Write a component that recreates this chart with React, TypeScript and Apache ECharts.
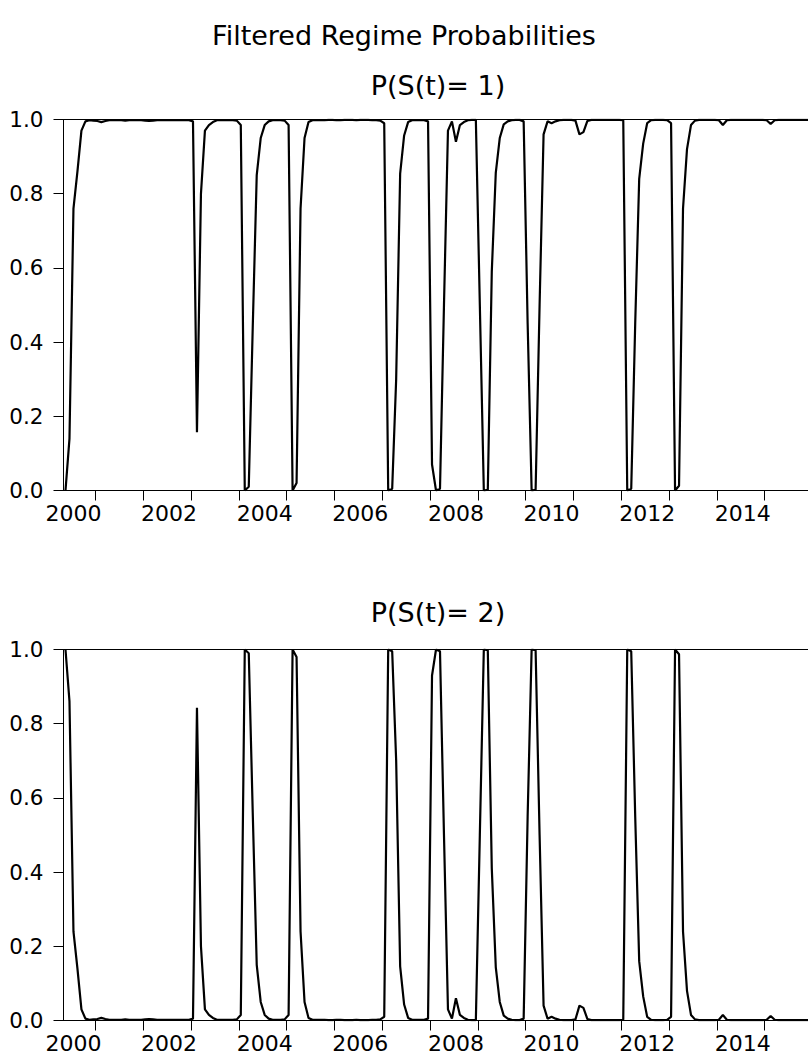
import React, { useEffect, useRef } from "react";
import * as echarts from "echarts";

// Monthly observations, May 2000 .. Dec 2015
const START_YEAR = 2000;
const START_MONTH = 5;
const N_OBS = 188;
const months: string[] = [];
for (let i = 0; i < N_OBS; i++) {
  const m = START_MONTH - 1 + i;
  const y = START_YEAR + Math.floor(m / 12);
  const mm = (m % 12) + 1;
  months.push(`${y}-${String(mm).padStart(2, "0")}`);
}

const labelYears = [2000, 2002, 2004, 2006, 2008, 2010, 2012, 2014];
const yTicks = [0, 0.2, 0.4, 0.6, 0.8, 1.0];

const titleText = "Filtered Regime Probabilities";
const panelTitles = ["P(S(t)= 1)", "P(S(t)= 2)"];

// Filtered probability of regime 1
const probRegime1 = [
  0.000, 0.140, 0.760, 0.860, 0.970, 0.995, 0.998, 0.997, 0.996, 0.993, 0.996, 0.998,
  0.998, 0.998, 0.998, 0.997, 0.998, 0.998, 0.998, 0.998, 0.997, 0.996, 0.997, 0.998,
  0.998, 0.998, 0.998, 0.998, 0.998, 0.998, 0.998, 0.998, 0.995, 0.157, 0.800, 0.970,
  0.985, 0.993, 0.998, 0.998, 0.998, 0.998, 0.998, 0.997, 0.985, 0.000, 0.010, 0.440,
  0.850, 0.950, 0.985, 0.995, 0.998, 0.998, 0.998, 0.997, 0.985, 0.000, 0.020, 0.760,
  0.950, 0.993, 0.998, 0.998, 0.998, 0.998, 0.999, 0.999, 0.998, 0.998, 0.999, 0.999,
  0.999, 0.998, 0.999, 0.999, 0.999, 0.998, 0.998, 0.997, 0.990, 0.000, 0.005, 0.300,
  0.854, 0.957, 0.993, 0.998, 0.998, 0.998, 0.998, 0.995, 0.070, 0.000, 0.005, 0.500,
  0.970, 0.995, 0.940, 0.985, 0.993, 0.998, 0.999, 0.999, 0.500, 0.000, 0.002, 0.590,
  0.856, 0.950, 0.987, 0.995, 0.998, 0.999, 0.999, 0.995, 0.450, 0.000, 0.002, 0.500,
  0.960, 0.995, 0.990, 0.995, 0.998, 0.999, 0.999, 0.999, 0.997, 0.960, 0.966, 0.996,
  0.999, 0.999, 0.999, 0.999, 0.999, 0.999, 0.999, 0.999, 0.998, 0.000, 0.005, 0.450,
  0.840, 0.935, 0.990, 0.998, 0.999, 0.999, 0.999, 0.998, 0.990, 0.000, 0.013, 0.760,
  0.920, 0.985, 0.997, 0.999, 0.999, 0.999, 0.999, 0.999, 0.998, 0.985, 0.998, 0.999,
  0.999, 0.999, 0.999, 0.999, 0.999, 0.999, 0.999, 0.999, 0.998, 0.988, 0.998, 0.999,
  0.999, 0.999, 0.999, 0.999, 0.999, 0.999, 0.999, 0.999,
];

// Filtered probability of regime 2
const probRegime2 = [
  1.000, 0.860, 0.240, 0.140, 0.030, 0.005, 0.002, 0.003, 0.004, 0.007, 0.004, 0.002,
  0.002, 0.002, 0.002, 0.003, 0.002, 0.002, 0.002, 0.002, 0.003, 0.004, 0.003, 0.002,
  0.002, 0.002, 0.002, 0.002, 0.002, 0.002, 0.002, 0.002, 0.005, 0.843, 0.200, 0.030,
  0.015, 0.007, 0.002, 0.002, 0.002, 0.002, 0.002, 0.003, 0.015, 1.000, 0.990, 0.560,
  0.150, 0.050, 0.015, 0.005, 0.002, 0.002, 0.002, 0.003, 0.015, 1.000, 0.980, 0.240,
  0.050, 0.007, 0.002, 0.002, 0.002, 0.002, 0.001, 0.001, 0.002, 0.002, 0.001, 0.001,
  0.001, 0.002, 0.001, 0.001, 0.001, 0.002, 0.002, 0.003, 0.010, 1.000, 0.995, 0.700,
  0.146, 0.043, 0.007, 0.002, 0.002, 0.002, 0.002, 0.005, 0.930, 1.000, 0.995, 0.500,
  0.030, 0.005, 0.060, 0.015, 0.007, 0.002, 0.001, 0.001, 0.500, 1.000, 0.998, 0.410,
  0.144, 0.050, 0.013, 0.005, 0.002, 0.001, 0.001, 0.005, 0.550, 1.000, 0.998, 0.500,
  0.040, 0.005, 0.010, 0.005, 0.002, 0.001, 0.001, 0.001, 0.003, 0.040, 0.034, 0.004,
  0.001, 0.001, 0.001, 0.001, 0.001, 0.001, 0.001, 0.001, 0.002, 1.000, 0.995, 0.550,
  0.160, 0.065, 0.010, 0.002, 0.001, 0.001, 0.001, 0.002, 0.010, 1.000, 0.987, 0.240,
  0.080, 0.015, 0.003, 0.001, 0.001, 0.001, 0.001, 0.001, 0.002, 0.015, 0.002, 0.001,
  0.001, 0.001, 0.001, 0.001, 0.001, 0.001, 0.001, 0.001, 0.002, 0.012, 0.002, 0.001,
  0.001, 0.001, 0.001, 0.001, 0.001, 0.001, 0.001, 0.001,
];

const FONT = "DejaVu Sans";

export default function App() {
  const ref = useRef<HTMLDivElement>(null);

  useEffect(() => {
    if (!ref.current) return;
    const chart = echarts.init(ref.current, null, { renderer: "svg" });

    const gridLeft = 63.5;
    const gridWidth = 749;
    const gridTops = [119.5, 649.5];
    const gridHeight = 371;

    const makeX = (gridIndex: number) => ({
      type: "category",
      gridIndex,
      data: months,
      boundaryGap: true,
      axisLine: { show: true, lineStyle: { color: "#000", width: 1 } },
      axisTick: {
        show: true,
        length: 10,
        interval: (_i: number, v: string) => v.endsWith("-01"),
        lineStyle: { color: "#000", width: 1 },
      },
      axisLabel: {
        interval: (_i: number, v: string) =>
          v.endsWith("-07") && labelYears.includes(Number(v.slice(0, 4))),
        formatter: (v: string) => v.slice(0, 4),
        color: "#000",
        fontFamily: FONT,
        fontSize: 22,
        margin: 12,
      },
      splitLine: { show: false },
    });

    const makeY = (gridIndex: number) => ({
      type: "value",
      gridIndex,
      min: yTicks[0],
      max: yTicks[yTicks.length - 1],
      interval: 0.2,
      axisLine: { show: true, lineStyle: { color: "#000", width: 1 } },
      axisTick: { show: true, length: 10, lineStyle: { color: "#000", width: 1 } },
      axisLabel: {
        formatter: (v: number) => v.toFixed(1),
        color: "#000",
        fontFamily: FONT,
        fontSize: 21.5,
        margin: 20,
      },
      splitLine: { show: false },
    });

    const makeSeries = (idx: number, data: number[]) => ({
      type: "line",
      xAxisIndex: idx,
      yAxisIndex: idx,
      data,
      symbol: "none",
      showSymbol: false,
      lineStyle: { color: "#000", width: 2.2 },
      itemStyle: { color: "#000" },
    });

    const textEl = (x: number, y: number, text: string) => ({
      type: "text",
      x,
      y,
      style: {
        text,
        fill: "#000",
        fontFamily: FONT,
        fontSize: 27,
        align: "center",
        verticalAlign: "middle",
      },
    });

    chart.setOption({
      animation: false,
      backgroundColor: "#fff",
      grid: gridTops.map((top) => ({
        left: gridLeft,
        top,
        width: gridWidth,
        height: gridHeight,
        show: true,
        borderColor: "#000",
        borderWidth: 1,
        backgroundColor: "transparent",
      })),
      xAxis: [makeX(0), makeX(1)],
      yAxis: [makeY(0), makeY(1)],
      series: [makeSeries(0, probRegime1), makeSeries(1, probRegime2)],
      graphic: [
        textEl(404, 35, titleText),
        textEl(gridLeft + gridWidth / 2, 85, panelTitles[0]),
        textEl(gridLeft + gridWidth / 2, 612, panelTitles[1]),
      ],
    });

    return () => chart.dispose();
  }, []);

  return (
    <div
      style={{
        position: "fixed",
        left: 0,
        top: 0,
        width: 808,
        height: 1057,
        overflow: "hidden",
        background: "#fff",
      }}
    >
      <div ref={ref} style={{ width: 830, height: 1057 }} />
    </div>
  );
}
